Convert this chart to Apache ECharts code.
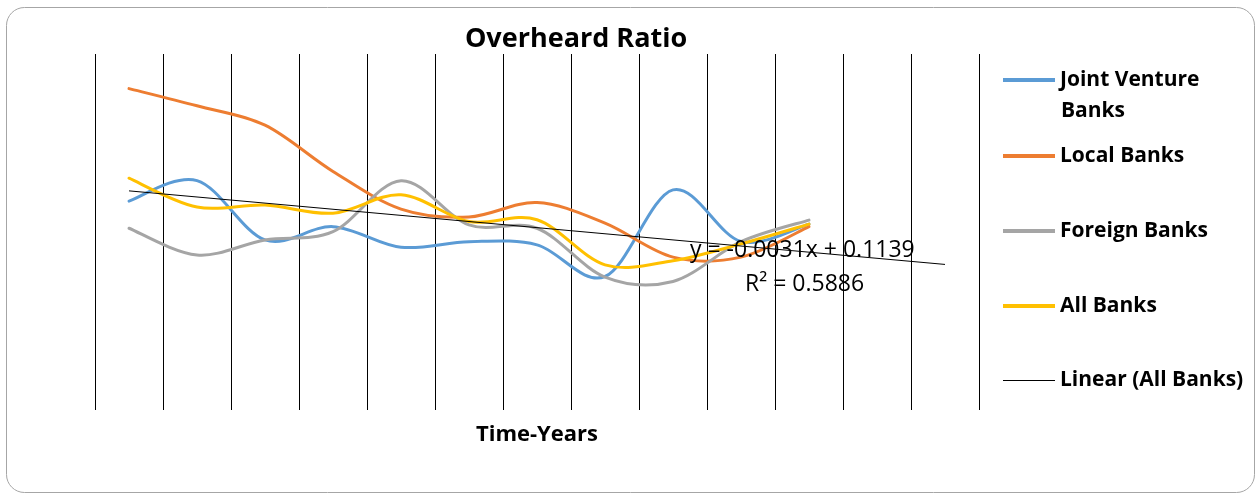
<!DOCTYPE html>
<html>
<head>
<meta charset="utf-8">
<script src="https://cdn.jsdelivr.net/npm/echarts@6/dist/echarts.min.js"></script>
<style>
  html, body { margin: 0; padding: 0; background: #ffffff; }
  #chart { width: 1260px; height: 495px; }
</style>
</head>
<body>
<div id="chart"></div>
<script>
// Time periods on the category axis (the last two hold only the trend forecast)
const years = ['1', '2', '3', '4', '5', '6', '7', '8', '9', '10', '11', '12', '13'];

// Overhead ratio by bank group
const jointVenture = [0.1056, 0.1160, 0.0860, 0.0927, 0.0823, 0.0851, 0.0835, 0.0675, 0.1113, 0.0852, 0.0940];
const localBanks   = [0.1625, 0.1538, 0.1440, 0.1206, 0.1016, 0.0976, 0.1049, 0.0945, 0.0773, 0.0773, 0.0927];
const foreignBanks = [0.0919, 0.0784, 0.0860, 0.0902, 0.1159, 0.0936, 0.0919, 0.0672, 0.0650, 0.0851, 0.0960];
const allBanks     = [0.1172, 0.1026, 0.1036, 0.0995, 0.1088, 0.0953, 0.0962, 0.0734, 0.0755, 0.0840, 0.0940];

// Linear trend of All Banks: y = -0.0031x + 0.1139, R² = 0.5886
const trendSlope = -0.0031;
const trendIntercept = 0.1139;
const trendR2 = 0.5886;
const trendLine = years.map((_, i) => +(trendSlope * (i + 1) + trendIntercept).toFixed(4));

const FONT = '"Open Sans"';
const colors = { jv: '#5B9BD5', local: '#ED7D31', foreign: '#A5A5A5', all: '#FFC000', trend: '#000000' };

function legendItem(name, centerY, color, h) {
  return {
    data: [name],
    left: 1003,
    top: centerY - 13,
    padding: 0,
    itemWidth: 52,
    itemHeight: h,
    itemGap: 6,
    icon: 'rect',
    selectedMode: false,
    itemStyle: { color: color, borderWidth: 0 },
    textStyle: { fontFamily: FONT, fontWeight: 'bold', fontSize: 21, color: '#000', lineHeight: 26 }
  };
}

// Smoothed line: cubic Bézier through every point, tangents from the neighbours
function splineSeries(name, values, color) {
  return {
    name: name,
    type: 'custom',
    data: values.map((v, i) => [i, v]),
    encode: { x: 0, y: 1 },
    itemStyle: { color: color },
    z: 2,
    renderItem: function (params, api) {
      if (params.dataIndex !== 0) return null;
      const pts = values.map((v, i) => api.coord([i, v]));
      let d = 'M' + pts[0][0] + ' ' + pts[0][1];
      for (let i = 0; i < pts.length - 1; i++) {
        const p0 = pts[i - 1] || pts[i];
        const p1 = pts[i];
        const p2 = pts[i + 1];
        const p3 = pts[i + 2] || pts[i + 1];
        const c1x = p1[0] + (p2[0] - p0[0]) / 6, c1y = p1[1] + (p2[1] - p0[1]) / 6;
        const c2x = p2[0] - (p3[0] - p1[0]) / 6, c2y = p2[1] - (p3[1] - p1[1]) / 6;
        d += ' C' + c1x + ' ' + c1y + ' ' + c2x + ' ' + c2y + ' ' + p2[0] + ' ' + p2[1];
      }
      return {
        type: 'path',
        shape: { pathData: d },
        style: { fill: 'none', stroke: color, lineWidth: 3, lineJoin: 'round', lineCap: 'round' },
        silent: true
      };
    }
  };
}

const chart = echarts.init(document.getElementById('chart'), null, { renderer: 'canvas' });

chart.setOption({
  backgroundColor: '#ffffff',
  animation: false,
  title: {
    text: 'Overheard Ratio',
    left: 576,
    top: 26,
    textAlign: 'center',
    padding: 0,
    textStyle: { fontFamily: FONT, fontWeight: 'bold', fontSize: 27, color: '#000' }
  },
  grid: { left: 95, top: 54, width: 884, height: 356, containLabel: false },
  xAxis: {
    type: 'category',
    data: years,
    boundaryGap: true,
    axisLine: { show: false },
    axisTick: { show: false },
    axisLabel: { show: false },
    splitLine: { show: true, lineStyle: { color: '#000', width: 1 } },
    name: 'Time-Years',
    nameLocation: 'middle',
    nameGap: 14,
    nameTextStyle: { fontFamily: FONT, fontWeight: 'bold', fontSize: 22, color: '#000' }
  },
  yAxis: {
    type: 'value',
    min: 0,
    max: 0.18,
    axisLine: { show: false },
    axisTick: { show: false },
    axisLabel: { show: false },
    splitLine: { show: false }
  },
  legend: [
    Object.assign(legendItem('Joint Venture Banks', 80, colors.jv, 4), { formatter: () => 'Joint Venture' }),
    legendItem('Local Banks', 156, colors.local, 4),
    legendItem('Foreign Banks', 231, colors.foreign, 4),
    legendItem('All Banks', 306, colors.all, 4),
    Object.assign(legendItem('Linear (All Banks)', 381, colors.trend, 1), { top: 367.5 })
  ],
  series: [
    splineSeries('Joint Venture Banks', jointVenture, colors.jv),
    splineSeries('Local Banks', localBanks, colors.local),
    splineSeries('Foreign Banks', foreignBanks, colors.foreign),
    splineSeries('All Banks', allBanks, colors.all),
    {
      name: 'Linear (All Banks)',
      type: 'line',
      data: trendLine,
      smooth: false,
      showSymbol: false,
      symbol: 'none',
      lineStyle: { color: colors.trend, width: 1 },
      itemStyle: { color: colors.trend },
      emphasis: { disabled: true },
      z: 3
    }
  ],
  graphic: [
    {
      type: 'rect',
      shape: { x: 6.5, y: 7.5, width: 1248, height: 485, r: 18 },
      style: { fill: 'none', stroke: '#a6a6a6', lineWidth: 1 },
      silent: true,
      z: -1
    },
    {
      type: 'text',
      x: 1061,
      y: 111,
      style: { text: 'Banks', fontFamily: FONT, fontWeight: 'bold', fontSize: 21, fill: '#000', verticalAlign: 'middle' },
      silent: true
    },
    {
      type: 'text',
      x: 690,
      y: 250,
      style: {
        text: 'y = ' + trendSlope.toFixed(4) + 'x + ' + trendIntercept.toFixed(4),
        fontFamily: FONT, fontSize: 23, fill: '#000', verticalAlign: 'middle'
      },
      silent: true,
      z: 10
    },
    {
      type: 'text',
      x: 745,
      y: 284,
      style: { text: 'R² = ' + trendR2.toFixed(4), fontFamily: FONT, fontSize: 23, fill: '#000', verticalAlign: 'middle' },
      silent: true,
      z: 10
    }
  ]
});
</script>
</body>
</html>
